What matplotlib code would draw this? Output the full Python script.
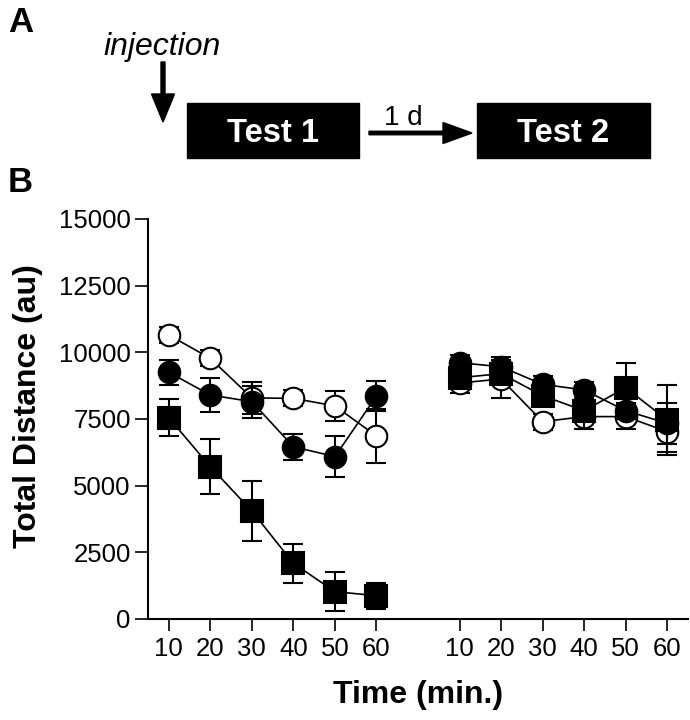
import numpy as np
import matplotlib
matplotlib.use("Agg")
import matplotlib.pyplot as plt
from matplotlib.patches import Rectangle

plt.rcParams['font.family'] = ['Liberation Sans', 'DejaVu Sans']

# temps (min) et positions sur l'axe (deux sessions séparées)
minutes = [10, 20, 30, 40, 50, 60]
pos_test1 = [1, 2, 3, 4, 5, 6]
pos_test2 = [8, 9, 10, 11, 12, 13]

# Test 1
open_t1 = [10650, 9775, 8290, 8275, 7990, 6860]
open_t1_sem = [300, 300, 600, 300, 550, 1000]
filled_t1 = [9250, 8400, 8150, 6460, 6090, 8360]
filled_t1_sem = [475, 620, 600, 490, 780, 560]
square_t1 = [7550, 5710, 4050, 2090, 1025, 875]
square_t1_sem = [690, 1030, 1140, 730, 725, 490]

# Test 2
open_t2 = [8850, 9000, 7400, 7590, 7590, 7025]
open_t2_sem = [360, 700, 300, 480, 480, 775]
filled_t2 = [9610, 9460, 8800, 8590, 7810, 7340]
filled_t2_sem = [300, 380, 300, 300, 300, 775]
square_t2 = [9050, 9200, 8375, 7810, 8675, 7460]
square_t2_sem = [300, 350, 350, 700, 940, 1300]

fig = plt.figure(figsize=(6.9, 7.2), dpi=100)

# calque en pixels pour le schéma (panneau A) et les lettres
ov = fig.add_axes([0, 0, 1, 1])
ov.set_xlim(0, 690)
ov.set_ylim(720, 0)
ov.axis('off')

ov.text(8, 32, 'A', fontsize=25, fontweight='bold', ha='left', va='baseline')
ov.text(8, 192.5, 'B', fontsize=25, fontweight='bold', ha='left', va='baseline')
ov.text(162.5, 55, 'injection', fontsize=23, fontstyle='italic', ha='center', va='baseline')
ov.arrow(163, 62, 0, 60, width=4, head_width=23, head_length=28,
         length_includes_head=True, color='k')
ov.add_patch(Rectangle((187, 102.7), 172, 55.3, color='k'))
ov.add_patch(Rectangle((477, 102.7), 173, 55.3, color='k'))
ov.text(273, 142.5, 'Test 1', fontsize=23.5, fontweight='bold', color='white',
        ha='center', va='baseline')
ov.text(563.5, 142.5, 'Test 2', fontsize=23.5, fontweight='bold', color='white',
        ha='center', va='baseline')
ov.arrow(369, 133, 103, 0, width=3.5, head_width=21, head_length=29,
         length_includes_head=True, color='k')
ov.text(384, 125, '1 d', fontsize=20, ha='left', va='baseline')
ov.text(28, 406, 'Total Distance (au)', fontsize=23, fontweight='bold',
        rotation=90, ha='center', va='center')
ov.text(418, 703, 'Time (min.)', fontsize=23, fontweight='bold',
        ha='center', va='baseline')

# panneau B
ax = fig.add_axes([148 / 690, 1 - 619 / 720, 540 / 690, 400 / 720])

style = dict(color='k', lw=1.2, markersize=15.5, markeredgewidth=1.5,
             capsize=7.5, capthick=1.5, elinewidth=1.5, clip_on=False)

for pos, vals, sem in [(pos_test1, open_t1, open_t1_sem), (pos_test2, open_t2, open_t2_sem)]:
    ax.errorbar(pos, vals, yerr=sem, marker='o', markerfacecolor='white',
                markeredgecolor='k', zorder=3, **style)
for pos, vals, sem in [(pos_test1, filled_t1, filled_t1_sem), (pos_test2, filled_t2, filled_t2_sem)]:
    ax.errorbar(pos, vals, yerr=sem, marker='o', markerfacecolor='k',
                markeredgecolor='k', zorder=4, **style)
for pos, vals, sem in [(pos_test1, square_t1, square_t1_sem), (pos_test2, square_t2, square_t2_sem)]:
    ax.errorbar(pos, vals, yerr=sem, marker='s', markerfacecolor='k',
                markeredgecolor='k', zorder=5, **style)

ax.set_xlim(0.5, 13.5)
ax.set_ylim(0, 15000)
ax.set_yticks([0, 2500, 5000, 7500, 10000, 12500, 15000])
ax.set_xticks(pos_test1 + pos_test2)
ax.set_xticklabels([str(m) for m in minutes] * 2)
ax.spines['top'].set_visible(False)
ax.spines['right'].set_visible(False)
ax.spines['left'].set_linewidth(1.5)
ax.spines['bottom'].set_linewidth(1.5)
ax.tick_params(axis='y', labelsize=18.5, length=9.5, width=1.2, pad=3)
ax.tick_params(axis='x', labelsize=18.5, length=8.6, width=1.2, pad=4)
ax.patch.set_alpha(0)

fig.savefig('out.png', dpi=100)
